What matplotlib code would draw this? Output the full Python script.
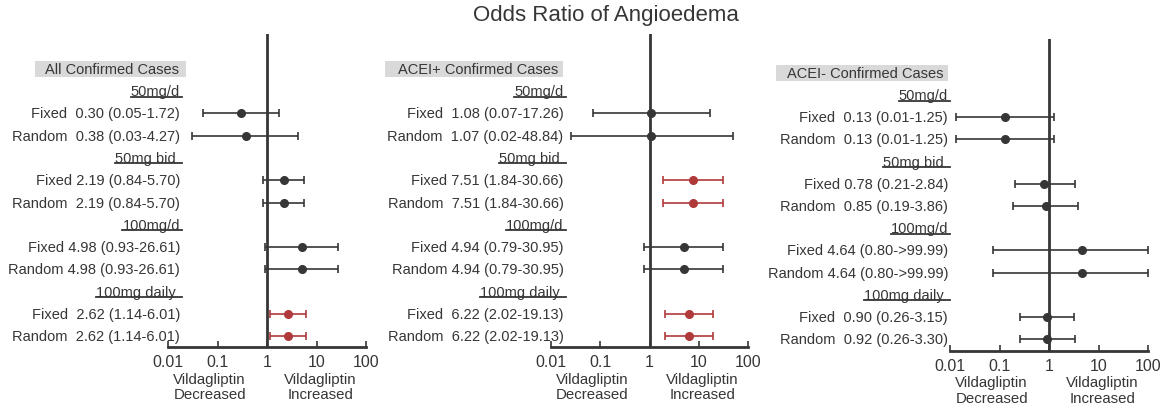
import numpy as np
import matplotlib
matplotlib.use("Agg")
import matplotlib.pyplot as plt
from matplotlib.patches import Rectangle
from matplotlib.lines import Line2D
from matplotlib.transforms import IdentityTransform

plt.rcParams["font.family"] = ["Liberation Sans", "DejaVu Sans"]

# panel headers and subgroup names
titles = ["All Confirmed Cases", "ACEI+ Confirmed Cases", "ACEI- Confirmed Cases"]
groups = ["50mg/d", "50mg bid ", "100mg/d", "100mg daily "]
ticks = [0.01, 0.1, 1, 10, 100]
tick_labels = ["0.01", "0.1", "1", "10", "100"]

# All confirmed cases
all_labels = ["Fixed  0.30 (0.05-1.72)", "Random  0.38 (0.03-4.27)",
              "Fixed 2.19 (0.84-5.70)", "Random  2.19 (0.84-5.70)",
              "Fixed 4.98 (0.93-26.61)", "Random 4.98 (0.93-26.61)",
              "Fixed  2.62 (1.14-6.01)", "Random  2.62 (1.14-6.01)"]
all_or = [0.30, 0.38, 2.19, 2.19, 4.98, 4.98, 2.62, 2.62]
all_lo = [0.05, 0.03, 0.84, 0.84, 0.93, 0.93, 1.14, 1.14]
all_hi = [1.72, 4.27, 5.70, 5.70, 26.61, 26.61, 6.01, 6.01]
all_sig = [0, 0, 0, 0, 0, 0, 1, 1]

# ACEI+ confirmed cases
pos_labels = ["Fixed  1.08 (0.07-17.26)", "Random  1.07 (0.02-48.84)",
              "Fixed 7.51 (1.84-30.66)", "Random  7.51 (1.84-30.66)",
              "Fixed 4.94 (0.79-30.95)", "Random 4.94 (0.79-30.95)",
              "Fixed  6.22 (2.02-19.13)", "Random  6.22 (2.02-19.13)"]
pos_or = [1.08, 1.07, 7.51, 7.51, 4.94, 4.94, 6.22, 6.22]
pos_lo = [0.07, 0.025, 1.84, 1.84, 0.79, 0.79, 2.02, 2.02]
pos_hi = [17.26, 48.84, 30.66, 30.66, 30.95, 30.95, 19.13, 19.13]
pos_sig = [0, 0, 1, 1, 0, 0, 1, 1]

# ACEI- confirmed cases (plotted CI as drawn)
neg_labels = ["Fixed  0.13 (0.01-1.25)", "Random  0.13 (0.01-1.25)",
              "Fixed 0.78 (0.21-2.84)", "Random  0.85 (0.19-3.86)",
              "Fixed 4.64 (0.80->99.99)", "Random 4.64 (0.80->99.99)",
              "Fixed  0.90 (0.26-3.15)", "Random  0.92 (0.26-3.30)"]
neg_or = [0.13, 0.13, 0.78, 0.85, 4.64, 4.64, 0.90, 0.92]
neg_lo = [0.013, 0.013, 0.21, 0.19, 0.075, 0.075, 0.26, 0.26]
neg_hi = [1.25, 1.25, 3.4, 3.86, 100, 100, 3.15, 3.3]
neg_sig = [0, 0, 0, 0, 0, 0, 0, 0]

panels = [
    (all_labels, all_or, all_lo, all_hi, all_sig),
    (pos_labels, pos_or, pos_lo, pos_hi, pos_sig),
    (neg_labels, neg_or, neg_lo, neg_hi, neg_sig),
]

DARK = "#363636"
RED = "#b0393b"
W, H = 1176, 414

fig = plt.figure(figsize=(W / 100, H / 100), dpi=100)

# axes boxes in pixels: left, right, top, bottom
boxes = [(168, 366, 35, 348), (551, 748, 35, 348), (950, 1148, 40, 352)]
ylims = [(12.49, -1.57), (12.49, -1.57), (12.54, -1.53)]
label_x = [0.06, 0.064, -0.01]
head_x = [0.056, 0.038, -0.035]
head_pad = [(10, 7), (13, 5), (11, 5)]

head_texts = []
group_texts = []

for i, (labels, orr, lo, hi, sig) in enumerate(panels):
    l, r, t, b = boxes[i]
    ax = fig.add_axes([l / W, 1 - b / H, (r - l) / W, (b - t) / H])
    ax.set_facecolor("none")
    ax.set_xscale("log")
    ax.set_xlim(0.01, 100)
    ax.set_ylim(*ylims[i])
    for s in ["left", "top", "right"]:
        ax.spines[s].set_visible(False)
    ax.spines["bottom"].set_linewidth(2)
    ax.spines["bottom"].set_color(DARK)
    ax.set_yticks([])
    ax.set_xticks(ticks)
    ax.set_xticklabels(tick_labels)
    ax.minorticks_off()
    ax.tick_params(axis="x", direction="in", length=4, width=1.2,
                   color=DARK, labelcolor=DARK, labelsize=11.5, pad=5)
    ax.axvline(1, color=DARK, lw=2, zorder=1)

    tr = ax.get_yaxis_transform()
    ht = ax.text(head_x[i], 0, titles[i], transform=tr, ha="right", va="center",
                 fontsize=10.5, color=DARK, zorder=3, clip_on=False)
    head_texts.append((ax, ht, head_pad[i]))

    rows = []
    y = 1
    for g in range(4):
        gt = ax.text(label_x[i], y, groups[g], transform=tr, ha="right",
                     va="center", fontsize=10.5, color=DARK, clip_on=False)
        group_texts.append((ax, gt))
        y += 1
        for k in range(2):
            rows.append(y)
            y += 1

    for j, yy in enumerate(rows):
        c = RED if sig[j] else DARK
        ax.text(label_x[i], yy, labels[j], transform=tr, ha="right", va="center",
                fontsize=10.5, color=DARK, clip_on=False)
        ax.errorbar(orr[j], yy, xerr=[[orr[j] - lo[j]], [hi[j] - orr[j]]],
                    fmt="o", color=c, ms=5.5, elinewidth=1.2, capsize=2.8,
                    capthick=1.2, zorder=4, clip_on=False)

    ax.text(0.21, -0.126, "Vildagliptin\nDecreased", transform=ax.transAxes,
            ha="center", va="center", fontsize=10.8, color=DARK, linespacing=1.15)
    ax.text(0.77, -0.126, "Vildagliptin\nIncreased", transform=ax.transAxes,
            ha="center", va="center", fontsize=10.8, color=DARK, linespacing=1.15)

fig.text(606 / W, 1 - 15 / H, "Odds Ratio of Angioedema", ha="center",
         va="center", fontsize=16, color=DARK)

# grey header boxes and underlines need text extents
fig.canvas.draw()
renderer = fig.canvas.get_renderer()
for ax, ht, (pl, pr) in head_texts:
    bb = ht.get_window_extent(renderer)
    cy = (bb.y0 + bb.y1) / 2
    rect = Rectangle((bb.x0 - pl, cy - 8), bb.width + pl + pr, 16,
                     transform=IdentityTransform(), facecolor="#d9d9d9",
                     edgecolor="none", zorder=2, clip_on=False)
    ax.add_artist(rect)
for ax, gt in group_texts:
    bb = gt.get_window_extent(renderer)
    ln = Line2D([bb.x0, bb.x1 + 2], [bb.y0 + 1.5, bb.y0 + 1.5],
                transform=IdentityTransform(), color=DARK, lw=1.3,
                clip_on=False)
    ax.add_artist(ln)

fig.savefig("out.png", dpi=100)
